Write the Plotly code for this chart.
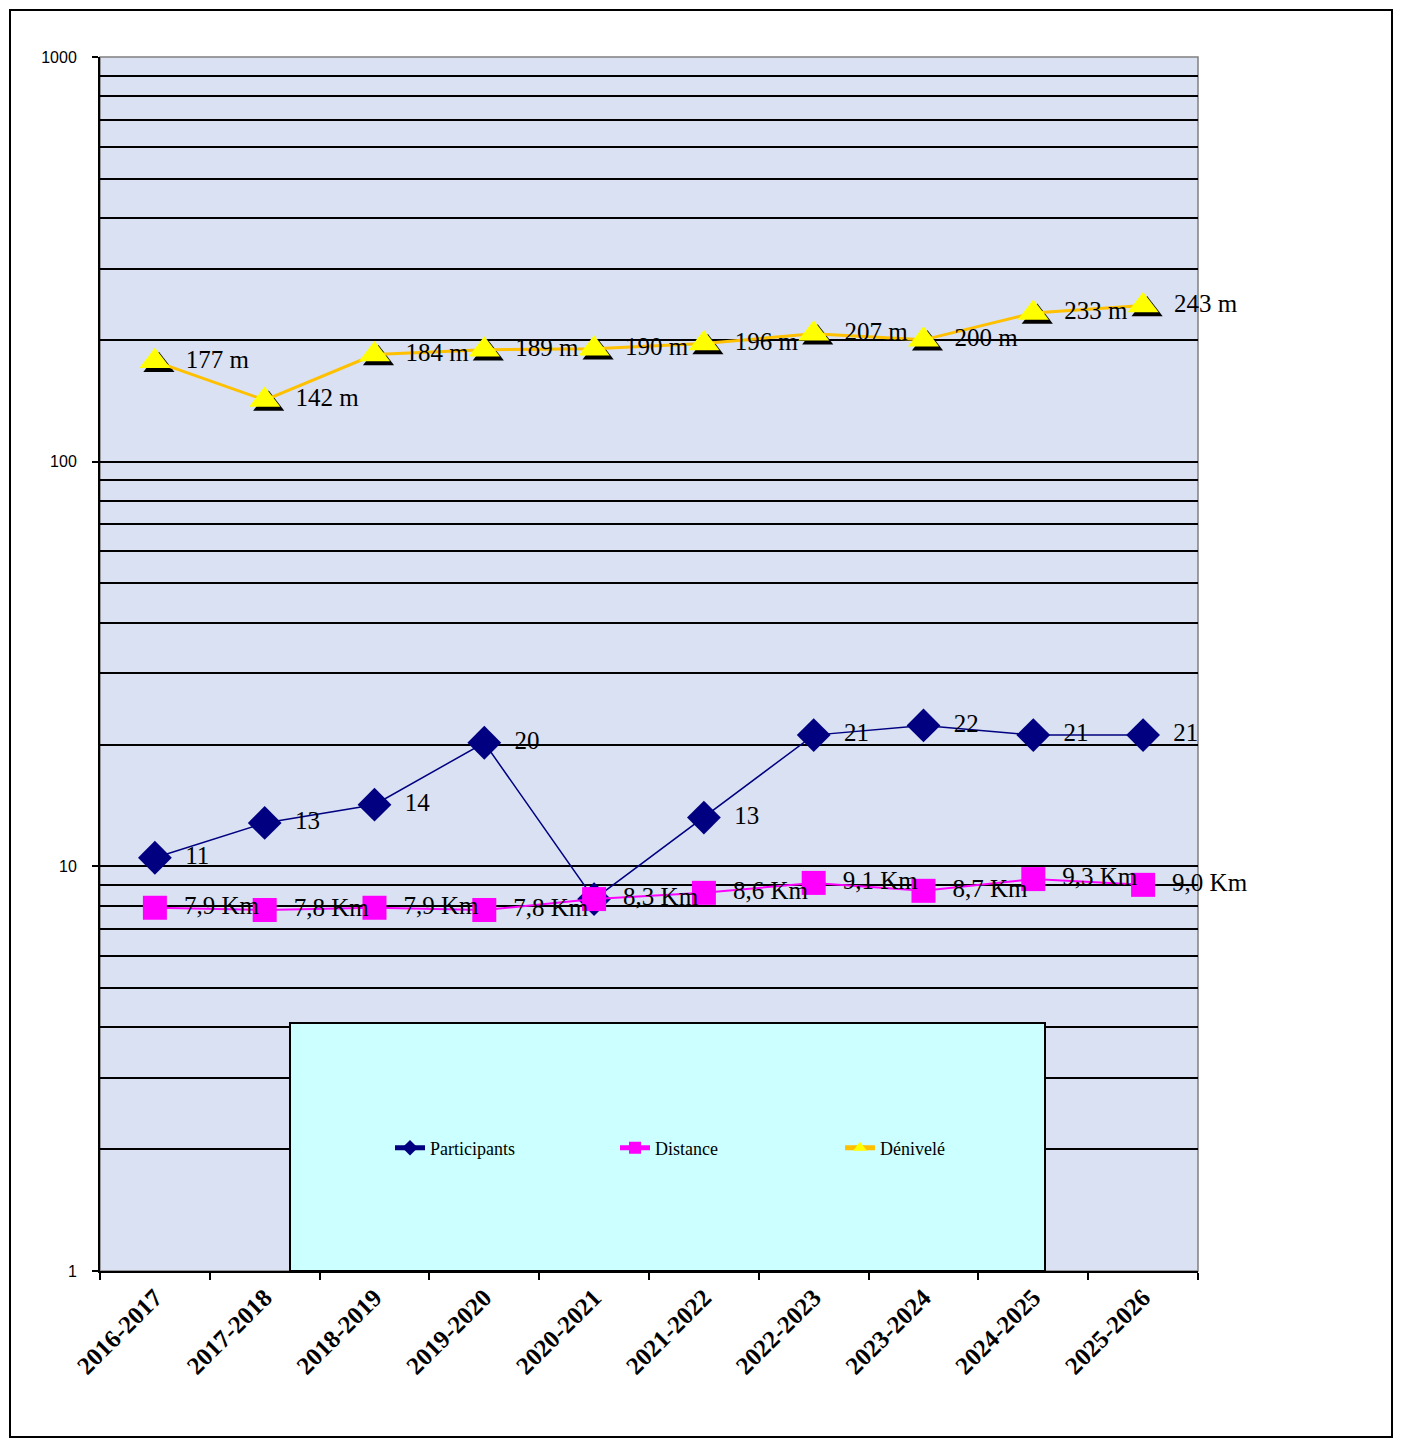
import plotly.graph_objects as go

seasons = ["2016-2017", "2017-2018", "2018-2019", "2019-2020", "2020-2021",
           "2021-2022", "2022-2023", "2023-2024", "2024-2025", "2025-2026"]
participants = [10.5, 12.8, 14.2, 20.2, 8.3, 13.2, 21.1, 22.3, 21.1, 21.1]
participants_labels = ["11", "13", "14", "20", "", "13", "21", "22", "21", "21"]
distance = [7.9, 7.8, 7.9, 7.8, 8.3, 8.6, 9.1, 8.7, 9.3, 9.0]
distance_labels = ["7,9 Km", "7,8 Km", "7,9 Km", "7,8 Km", "8,3 Km",
                   "8,6 Km", "9,1 Km", "8,7 Km", "9,3 Km", "9,0 Km"]
denivele = [177, 142, 184, 189, 190, 196, 207, 200, 233, 243]
denivele_labels = ["177 m", "142 m", "184 m", "189 m", "190 m",
                   "196 m", "207 m", "200 m", "233 m", "243 m"]
y_major = [1, 10, 100, 1000]
y_minor = [2, 3, 4, 5, 6, 7, 8, 9, 20, 30, 40, 50, 60, 70, 80, 90,
           200, 300, 400, 500, 600, 700, 800, 900]

OFF = 8  # page body margin
W, H = 1406 - 2 * OFF, 1450 - 2 * OFF
L, R, T, B = 100, 1198, 57, 1271  # plot area in reference pixels
pw, ph = R - L, B - T


def px(x):
    return (x - L) / pw


def py(y):
    return (B - y) / ph


serif = "Liberation Serif, Times New Roman, serif"
label_font = dict(family=serif, size=25, color="black")

n = len(seasons)
cat_px = pw / n
dec_px = ph / 3
sdx, sdy = 4 / cat_px, 4 / dec_px   # triangle shadow offset
tdx = 13 / cat_px                   # label offset

fig = go.Figure()

fig.add_trace(go.Scatter(x=seasons, y=[None] * n, xaxis="x", yaxis="y",
                         showlegend=False, hoverinfo="skip"))

fig.add_trace(go.Scatter(
    x=seasons, y=denivele, mode="markers", xaxis="x2", yaxis="y2",
    marker=dict(symbol="triangle-up", size=27, color="black"),
    showlegend=False, hoverinfo="skip", cliponaxis=False))

fig.add_trace(go.Scatter(
    x=seasons, y=participants, mode="lines+markers", name="Participants",
    xaxis="x3", yaxis="y3", cliponaxis=False,
    line=dict(color="#000080", width=1.5),
    marker=dict(symbol="diamond", size=26, color="#000080")))

fig.add_trace(go.Scatter(
    x=seasons, y=distance, mode="lines+markers", name="Distance",
    xaxis="x3", yaxis="y3", cliponaxis=False,
    line=dict(color="#FF00FF", width=2),
    marker=dict(symbol="square", size=24, color="#FF00FF")))

fig.add_trace(go.Scatter(
    x=seasons, y=denivele, mode="lines+markers", name="Dénivelé",
    xaxis="x3", yaxis="y3", cliponaxis=False,
    line=dict(color="#FFC000", width=3),
    marker=dict(symbol="triangle-up", size=27, color="#FFFF00")))

for vals, labs, sz in [(participants, participants_labels, 26),
                       (distance, distance_labels, 24),
                       (denivele, denivele_labels, 27)]:
    fig.add_trace(go.Scatter(
        x=seasons, y=vals, mode="markers+text", xaxis="x4", yaxis="y3",
        marker=dict(size=sz, color="rgba(0,0,0,0)"),
        text=labs, textposition="middle right", textfont=label_font,
        showlegend=False, hoverinfo="skip", cliponaxis=False))

fig.update_layout(
    width=W, height=H,
    margin=dict(l=L - OFF, r=W - (R - OFF), t=T - OFF, b=H - (B - OFF)),
    paper_bgcolor="white",
    plot_bgcolor="#D9E1F3",
    xaxis=dict(type="category", categoryarray=seasons, range=[-0.5, n - 0.5],
               showgrid=False, showline=True, linecolor="black", linewidth=2,
               ticks="outside", tickson="boundaries", ticklen=7, tickcolor="black",
               tickwidth=2, tickangle=-45,
               tickfont=dict(family=serif, size=25, color="black", weight="bold"),
               zeroline=False),
    yaxis=dict(type="log", range=[0, 3], tickvals=y_major,
               ticktext=[str(v) for v in y_major],
               showgrid=True, gridcolor="black", gridwidth=2,
               showline=True, linecolor="black", linewidth=2,
               ticks="outside", ticklen=6, tickcolor="black", tickwidth=2,
               ticklabelstandoff=12,
               tickfont=dict(family="Liberation Sans, Arial, sans-serif", size=16,
                             color="black"),
               minor=dict(tickvals=y_minor, showgrid=True, gridcolor="black",
                          gridwidth=2, ticks=""),
               zeroline=False),
    xaxis2=dict(type="category", categoryarray=seasons, overlaying="x",
                range=[-0.5 - sdx, n - 0.5 - sdx], visible=False),
    yaxis2=dict(type="log", overlaying="y", range=[0 + sdy, 3 + sdy], visible=False),
    xaxis3=dict(type="category", categoryarray=seasons, overlaying="x",
                range=[-0.5, n - 0.5], visible=False),
    yaxis3=dict(type="log", overlaying="y", range=[0, 3], visible=False),
    xaxis4=dict(type="category", categoryarray=seasons, overlaying="x",
                range=[-0.5 - tdx, n - 0.5 - tdx], visible=False),
    legend=dict(orientation="h", x=px(390), y=py(1148), xanchor="left", yanchor="middle",
                bgcolor="rgba(0,0,0,0)", entrywidth=180, entrywidthmode="pixels",
                itemsizing="constant",
                font=dict(family=serif, size=18, color="black")),
    shapes=[
        dict(type="rect", xref="paper", yref="paper",
             x0=px(290), x1=px(1045), y0=py(1271), y1=py(1023),
             fillcolor="#CCFFFF", line=dict(color="black", width=2), layer="above"),
        dict(type="rect", xref="paper", yref="paper", x0=0, x1=1, y0=0, y1=1,
             line=dict(color="#808080", width=1.5), layer="below"),
        dict(type="rect", xref="paper", yref="paper",
             x0=px(10), x1=px(1392), y0=py(1437), y1=py(10),
             line=dict(color="black", width=2)),
    ],
)

fig.write_html("out.html")
